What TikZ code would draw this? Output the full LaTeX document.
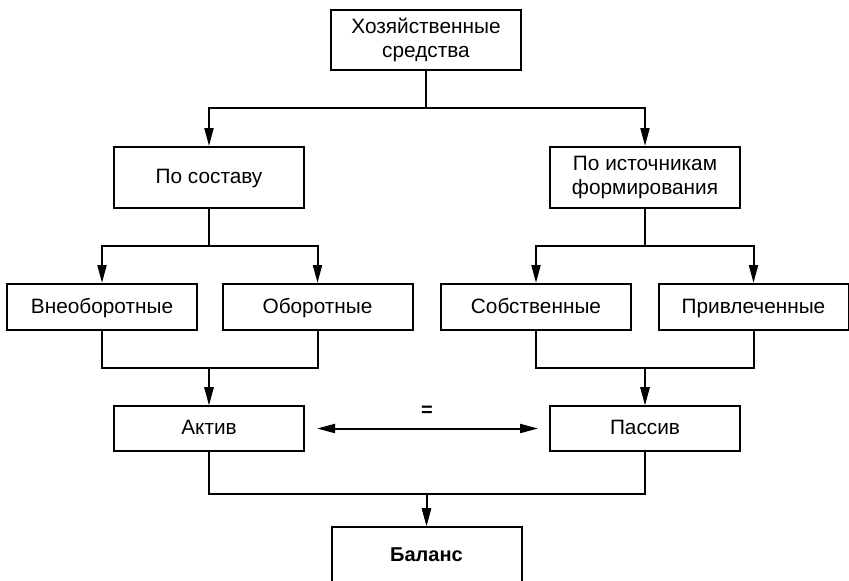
\documentclass[tikz,border=0pt]{standalone}
\usepackage{fontspec}
\setmainfont{Liberation Sans}
\usetikzlibrary{positioning, arrows.meta}

\begin{document}
\begin{tikzpicture}[
		x=0.5pt, y=-0.5pt,
		>={Triangle[length=9pt, width=4.5pt]},
		line width=1pt,
		font=\fontsize{10.4}{11.8}\selectfont,
		box/.style={draw, line width=1pt, minimum width=95pt, align=center, inner sep=2pt},
		oneline/.style={box, text height=1.6ex, text depth=0.45ex},
		link/.style={->, line width=1pt}
		]
		\useasboundingbox (0,0) rectangle (849,580);
		
		% ==========================================
		% Top level
		% ==========================================
		\node (sredstva) [box, minimum height=30pt] at (426,40) {Хозяйственные\\средства};
		
		\node (sostav) [oneline, minimum height=30.5pt, below=37.5pt of sredstva, xshift=-108.5pt] {По составу};
		\node (istochnik) [box, minimum height=30.5pt, below=37.5pt of sredstva, xshift=109.5pt] {По источникам\\формирования};
		
		\draw[link] (sredstva.south) -- ++(0,37) -| (sostav.north);
		\draw[link] (sredstva.south) -- ++(0,37) -| (istochnik.north);
		
		% ==========================================
		% Second level
		% ==========================================
		\node (vneob) [oneline, minimum height=23pt, below=37pt of sostav, xshift=-53.5pt] {Внеоборотные};
		\node (obor) [oneline, minimum height=23pt, below=37pt of sostav, xshift=54.25pt] {Оборотные};
		\node (sobst) [oneline, minimum height=23pt, below=37pt of istochnik, xshift=-54.5pt] {Собственные};
		\node (privl) [oneline, minimum height=23pt, below=37pt of istochnik, xshift=54.25pt] {Привлеченные};
		
		\draw[link] (sostav.south) -- ++(0,37) -| (vneob.north);
		\draw[link] (sostav.south) -- ++(0,37) -| (obor.north);
		\draw[link] (istochnik.south) -- ++(0,37) -| (sobst.north);
		\draw[link] (istochnik.south) -- ++(0,37) -| (privl.north);
		
		% ==========================================
		% Aktiv = Passiv
		% ==========================================
		\node (aktiv) [oneline, minimum height=22.5pt, below=98pt of sostav] {Актив};
		\node (passiv) [oneline, minimum height=22.5pt, below=98pt of istochnik] {Пассив};
		
		\draw[link] (vneob.south) -- ++(0,37) -| (aktiv.north);
		\draw[link] (obor.south) -- ++(0,37) -| (aktiv.north);
		\draw[link] (sobst.south) -- ++(0,37) -| (passiv.north);
		\draw[link] (privl.south) -- ++(0,37) -| (passiv.north);
		
		\draw[<->, line width=1pt, shorten <=6pt, shorten >=5.5pt] (aktiv) -- (passiv)
		node[midway, above=2pt, font=\bfseries] {=};
		
		% ==========================================
		% Balance
		% ==========================================
		\node (balans) [oneline, minimum height=28.5pt, below=37pt of aktiv, xshift=108.75pt, font=\bfseries] {Баланс};
		
		\draw[link] (aktiv.south) -- ++(0,42) -| (balans.north);
		\draw[link] (passiv.south) -- ++(0,42) -| (balans.north);
		
	\end{tikzpicture}
\end{document}
